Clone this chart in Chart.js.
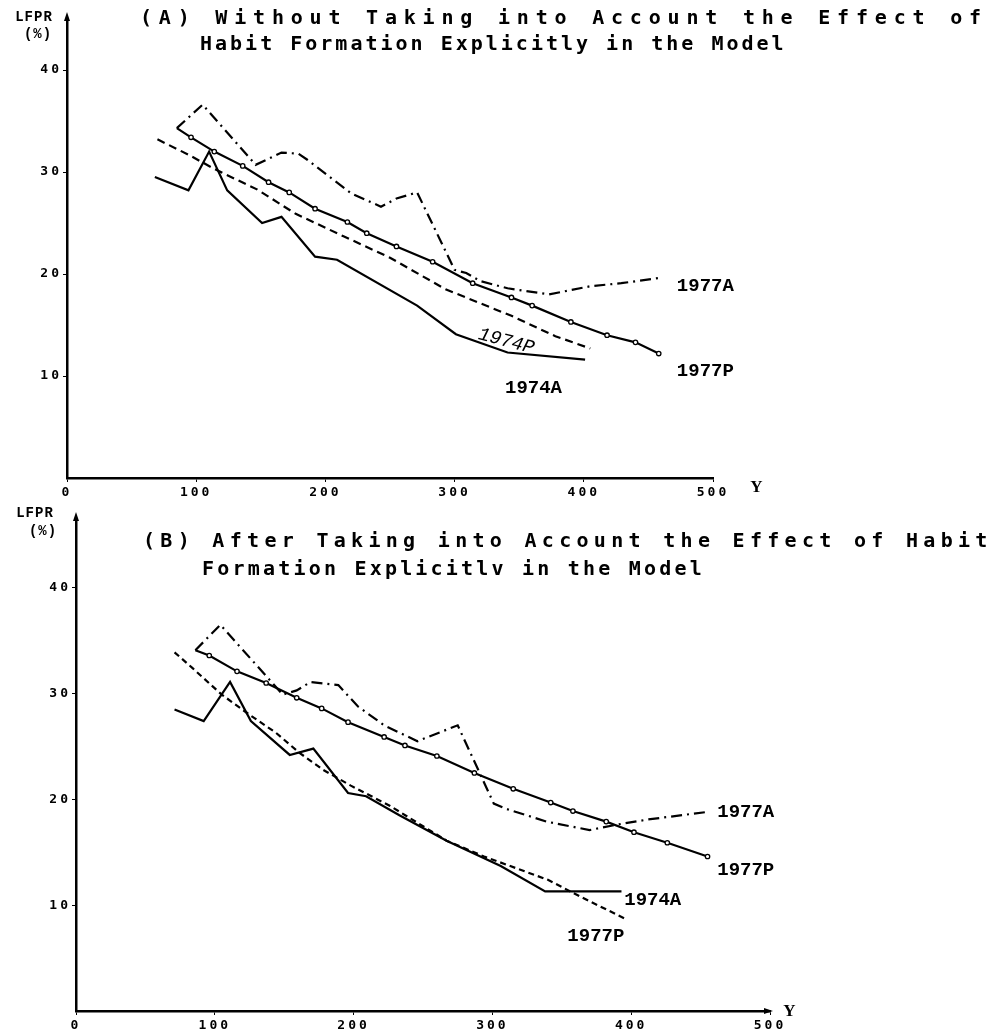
<!DOCTYPE html>
<html>
<head>
<meta charset="utf-8">
<script src="https://cdn.jsdelivr.net/npm/chart.js@4.4.1/dist/chart.umd.min.js"></script>
<style>
  html, body { margin: 0; padding: 0; background: #fff; }
  #wrap { position: relative; width: 989px; height: 1035px; overflow: hidden; }
  canvas { position: absolute; left: 0; }
  #cA { top: 0; }
  #cB { top: 500px; }
</style>
</head>
<body>
<div id="wrap">
  <canvas id="cA" width="989" height="500"></canvas>
  <canvas id="cB" width="989" height="535"></canvas>
</div>
<script>
/* ─────────── ticks ─────────── */
const xTicks = [0, 100, 200, 300, 400, 500];
const yTicks = [10, 20, 30, 40];

/* ─────────── panel (A): Y (income) / LFPR (%) ─────────── */
const a77aY = [85, 105, 146, 166, 179, 186, 220, 243, 255, 271, 300, 309, 320, 341, 373, 405, 429, 458];
const a77aL = [34.3, 36.6, 30.7, 31.9, 31.8, 31.2, 27.9, 26.6, 27.4, 28.0, 20.4, 20.1, 19.3, 18.6, 18.0, 18.8, 19.1, 19.6];

const a77pY = [85, 96, 114, 136, 156, 172, 192, 217, 232, 255, 283, 314, 344, 360, 390, 418, 440, 458];
const a77pL = [34.3, 33.4, 32.0, 30.6, 29.0, 28.0, 26.4, 25.1, 24.0, 22.7, 21.2, 19.1, 17.7, 16.9, 15.3, 14.0, 13.3, 12.2];

const a74pY = [70, 94, 114, 147, 177, 214, 250, 293, 344, 378, 405];
const a74pL = [33.2, 31.7, 30.3, 28.3, 25.9, 23.7, 21.6, 18.5, 15.9, 13.9, 12.7];

const a74aY = [68, 94, 110, 124, 151, 166, 192, 209, 271, 301, 341, 401];
const a74aL = [29.5, 28.2, 32.0, 28.2, 25.0, 25.6, 21.7, 21.4, 16.9, 14.1, 12.3, 11.6];

/* ─────────── panel (B) ─────────── */
const b77aY = [86, 104, 149, 159, 169, 189, 203, 222, 246, 275, 301, 310, 339, 370, 389, 412, 454];
const b77aL = [34.1, 36.5, 29.9, 30.3, 31.1, 30.8, 28.8, 27.0, 25.5, 27.0, 19.6, 19.1, 17.9, 17.1, 17.6, 18.1, 18.8];

const b77pY = [86, 96, 116, 137, 159, 177, 196, 222, 237, 260, 287, 315, 342, 358, 382, 402, 426, 455];
const b77pL = [34.1, 33.6, 32.1, 31.0, 29.6, 28.6, 27.3, 25.9, 25.1, 24.1, 22.5, 21.0, 19.7, 18.9, 17.9, 16.9, 15.9, 14.6];

const b74aY = [71, 92, 111, 126, 154, 171, 196, 209, 233, 267, 306, 338, 393];
const b74aL = [28.5, 27.4, 31.1, 27.4, 24.2, 24.8, 20.6, 20.3, 18.5, 16.1, 13.7, 11.3, 11.3];

const b77dY = [71, 84, 105, 125, 144, 161, 178, 198, 226, 267, 294, 340, 365, 396];
const b77dL = [33.9, 32.4, 29.9, 28.0, 26.3, 24.4, 22.8, 21.3, 19.4, 16.1, 14.6, 12.4, 10.7, 8.7];

/* ─────────── helpers ─────────── */
const pts = (xs, ys) => xs.map((x, i) => ({ x: x, y: ys[i] }));

function serie(xs, ys, kind) {
  const base = {
    data: pts(xs, ys),
    borderColor: '#000',
    borderWidth: 2.2,
    pointRadius: 0,
    tension: 0,
    fill: false
  };
  if (kind === 'dashdot') base.borderDash = [11, 5, 2, 5];
  if (kind === 'dash') base.borderDash = [8, 5];
  if (kind === 'dashShort') base.borderDash = [6, 4];
  if (kind === 'marked') {
    base.pointRadius = ctx => ctx.dataIndex === 0 ? 0 : 2.2;
    base.pointBackgroundColor = '#fff';
    base.pointBorderColor = '#000';
    base.pointBorderWidth = 1.3;
  }
  return base;
}

/* texto, flechas y rótulos de las series */
const decor = {
  id: 'decor',
  beforeDraw(chart) {
    chart.ctx.letterSpacing = '3px';
  },
  afterDraw(chart, args, o) {
    const ctx = chart.ctx;
    const xs = chart.scales.x, ys = chart.scales.y;
    ctx.save();
    ctx.fillStyle = '#000';
    ctx.textBaseline = 'middle';

    // título en dos líneas
    ctx.font = 'bold 20px "DejaVu Sans Mono"';
    ctx.textAlign = 'left';
    o.title.forEach(t => {
      ctx.letterSpacing = t.sp + 'px';
      ctx.fillText(t.text, t.x, t.y);
    });

    // rótulos de ejes
    ctx.letterSpacing = '1px';
    ctx.textAlign = 'center';
    ctx.font = 'bold 14px "Liberation Mono"';
    ctx.fillText('LFPR', o.lfpr[0], o.lfpr[1]);
    ctx.fillText('(%)', o.pct[0], o.pct[1]);
    ctx.font = 'bold 17px "Liberation Serif"';
    ctx.fillText('Y', o.yLab[0], o.yLab[1]);

    // flechas
    const x0 = xs.left, yT = ys.top, yB = ys.bottom, xR = xs.right;
    ctx.beginPath();
    ctx.moveTo(x0, yT - 7); ctx.lineTo(x0 - 3, yT + 2); ctx.lineTo(x0 + 3, yT + 2);
    ctx.closePath(); ctx.fill();
    if (o.xArrow) {
      ctx.beginPath();
      ctx.moveTo(xR + 3, yB); ctx.lineTo(xR - 6, yB - 3); ctx.lineTo(xR - 6, yB + 3);
      ctx.closePath(); ctx.fill();
    }

    // rótulos de series
    ctx.letterSpacing = '0px';
    o.labels.forEach(l => {
      const px = xs.getPixelForValue(l.x);
      const py = ys.getPixelForValue(l.y);
      ctx.save();
      ctx.translate(px, py);
      ctx.rotate((l.rot || 0) * Math.PI / 180);
      ctx.font = l.italic ? 'italic 19px "Liberation Mono"' : 'bold 19px "Liberation Mono"';
      ctx.textAlign = l.align || 'left';
      ctx.fillText(l.text, 0, 0);
      ctx.restore();
    });
    ctx.restore();
  }
};

function makeChart(id, datasets, cfg) {
  return new Chart(document.getElementById(id), {
    type: 'line',
    data: { datasets: datasets },
    plugins: [decor],
    options: {
      responsive: false,
      animation: false,
      devicePixelRatio: 1,
      layout: { padding: { top: cfg.top, right: cfg.right, left: 0, bottom: 0 } },
      plugins: {
        legend: { display: false },
        tooltip: { enabled: false },
        decor: cfg.decor
      },
      scales: {
        x: {
          type: 'linear',
          min: 0, max: 500,
          afterFit: s => { s.height = cfg.xH; },
          afterBuildTicks: s => { s.ticks = xTicks.map(v => ({ value: v })); },
          grid: { display: true, drawOnChartArea: false, drawTicks: true, tickLength: 4, color: '#000' },
          border: { color: '#000', width: 2.5 },
          ticks: { color: '#000', padding: 3, maxRotation: 0, font: { family: 'DejaVu Sans Mono', size: 13, weight: 'bold' } }
        },
        y: {
          type: 'linear',
          min: 0, max: cfg.yMax,
          afterFit: s => { s.width = cfg.yW; },
          afterBuildTicks: s => { s.ticks = yTicks.map(v => ({ value: v })); },
          grid: { display: true, drawOnChartArea: false, drawTicks: true, tickLength: 4, color: '#000' },
          border: { color: '#000', width: 2.5 },
          ticks: { color: '#000', padding: 1, font: { family: 'DejaVu Sans Mono', size: 13, weight: 'bold' } }
        }
      }
    }
  });
}

/* ─────────── (A) ─────────── */
makeChart('cA', [
  serie(a77aY, a77aL, 'dashdot'),
  serie(a77pY, a77pL, 'marked'),
  serie(a74pY, a74pL, 'dash'),
  serie(a74aY, a74aL, 'solid')
], {
  top: 19, right: 276, xH: 22, yW: 67, yMax: 45,
  decor: {
    title: [
      { text: '(A) Without Taking into Account the Effect of', x: 140, y: 19, sp: 6.8 },
      { text: 'Habit Formation Explicitly in the Model', x: 200, y: 45, sp: 3 }
    ],
    lfpr: [34, 17], pct: [38, 34], yLab: [757, 488], xArrow: false,
    labels: [
      { text: '1977A', x: 472, y: 18.8 },
      { text: '1977P', x: 472, y: 10.5 },
      { text: '1974A', x: 339, y: 8.8 },
      { text: '1974P', x: 340, y: 13.4, rot: 15, italic: true, align: 'center' }
    ]
  }
});

/* ─────────── (B) ─────────── */
makeChart('cB', [
  serie(b77aY, b77aL, 'dashdot'),
  serie(b77pY, b77pL, 'marked'),
  serie(b74aY, b74aL, 'solid'),
  serie(b77dY, b77dL, 'dashShort')
], {
  top: 19, right: 219, xH: 24, yW: 76, yMax: 46.5,
  decor: {
    title: [
      { text: '(B) After Taking into Account the Effect of Habit', x: 143, y: 42, sp: 5.3 },
      { text: 'Formation Explicitlv in the Model', x: 202, y: 70, sp: 3.2 }
    ],
    lfpr: [35, 13], pct: [43, 31], yLab: [790, 512], xArrow: true,
    labels: [
      { text: '1977A', x: 462, y: 18.8 },
      { text: '1977P', x: 462, y: 13.3 },
      { text: '1974A', x: 395, y: 10.5 },
      { text: '1977P', x: 354, y: 7.1 }
    ]
  }
});
</script>
</body>
</html>
